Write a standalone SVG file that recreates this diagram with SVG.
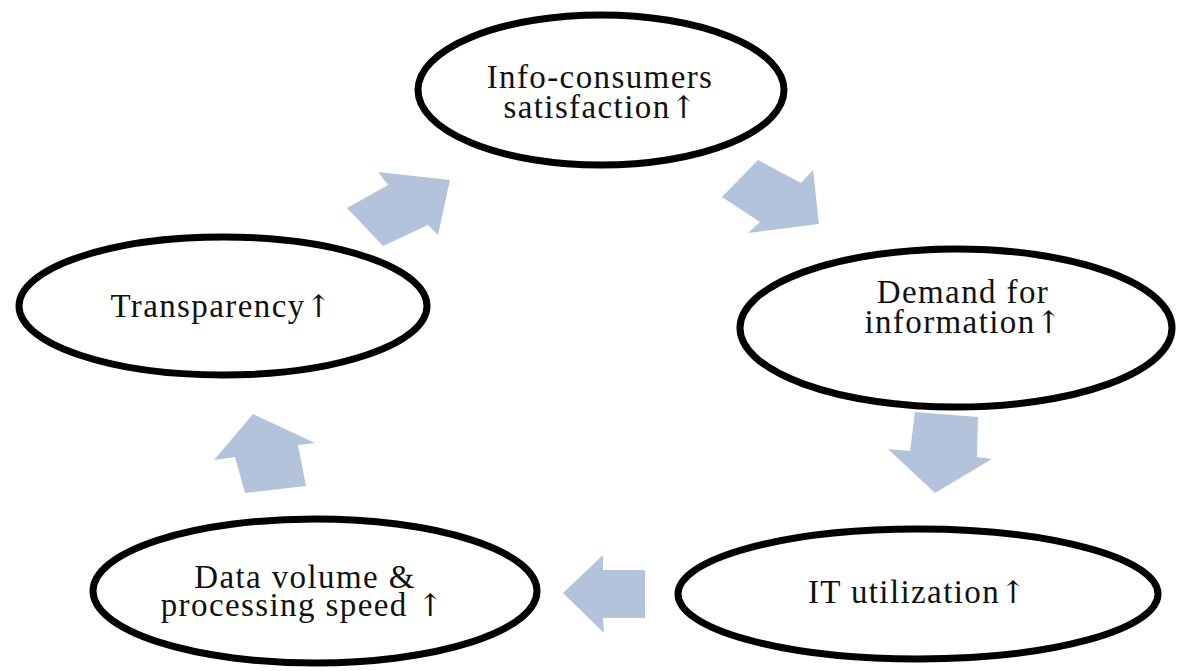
<svg xmlns="http://www.w3.org/2000/svg" width="1178" height="671" viewBox="0 0 1178 671">
  <style>
    .node ellipse { fill: #ffffff; stroke: #000000; stroke-width: 7; }
    .node text { font-family: "Liberation Serif", "Times New Roman", serif; font-size: 33px; letter-spacing: 1.4px; fill: #111111; text-anchor: middle; }
    .node .up { font-family: "DejaVu Serif", "Liberation Serif", serif; font-size: 31px; font-weight: 300; letter-spacing: 0; }
    .flow polygon { fill: #b4c3dc; stroke: none; }
  </style>
  <rect width="1178" height="671" fill="#ffffff"/>

  <!-- block arrows linking the cycle -->
  <g id="connectors" class="flow">
    <polygon points="378,172 450,180 438,235 428,225 383,246 347,208 388,185"/>
    <polygon points="758,160 801,183 813,170 819,224 748,233 760,222 722,197"/>
    <polygon points="915,412 978,417 977,457 992,459 935,493 888,449 910,451"/>
    <polygon points="253,414 315,443 298,445 306,486 245,493 235,457 214,460"/>
    <polygon points="563,593 603,555 603,570 645,570 645,618 603,618 604,633"/>
  </g>

  <g id="node-satisfaction" class="node">
    <ellipse cx="601" cy="90" rx="183" ry="75"/>
    <text x="600" y="88">Info-consumers</text>
    <text x="600" y="118">satisfaction<tspan class="up">↑</tspan></text>
  </g>

  <g id="node-demand" class="node">
    <ellipse cx="956" cy="328" rx="216" ry="79"/>
    <text x="963" y="303">Demand for</text>
    <text x="963" y="333">information<tspan class="up">↑</tspan></text>
  </g>

  <g id="node-it" class="node">
    <ellipse cx="918" cy="594" rx="240" ry="65"/>
    <text x="917" y="603">IT utilization<tspan class="up">↑</tspan></text>
  </g>

  <g id="node-data" class="node">
    <ellipse cx="315" cy="591" rx="222" ry="72"/>
    <text x="305" y="588">Data volume &amp;</text>
    <text x="302" y="616">processing speed <tspan class="up">↑</tspan></text>
  </g>

  <g id="node-transparency" class="node">
    <ellipse cx="223" cy="306" rx="204" ry="69"/>
    <text x="221" y="317">Transparency<tspan class="up">↑</tspan></text>
  </g>
</svg>
